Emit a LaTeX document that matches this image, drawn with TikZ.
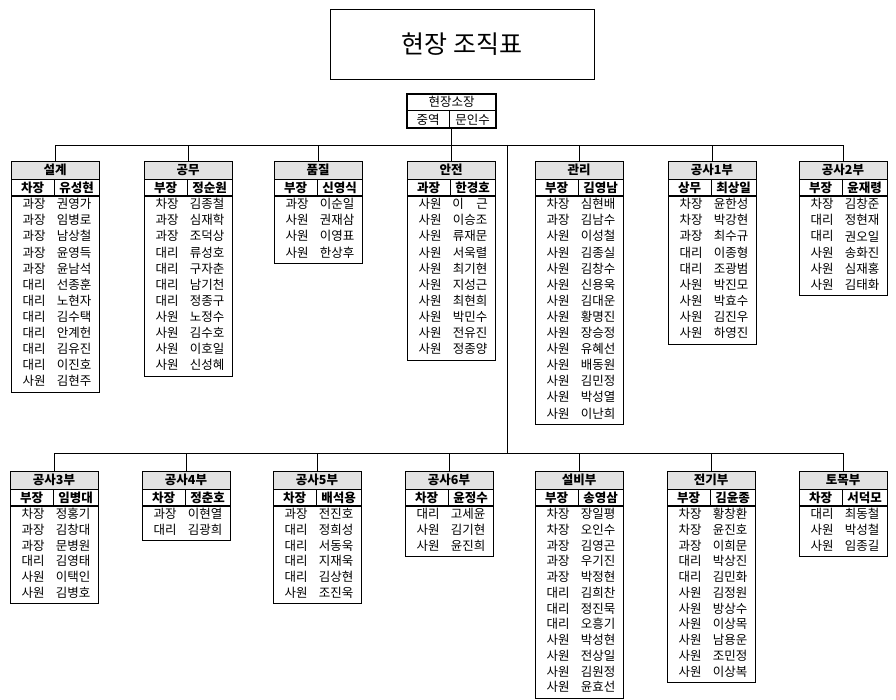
\documentclass[tikz,border=0pt]{standalone}
\usepackage{fontspec}
\setmainfont{Noto Sans CJK KR}
\tikzset{
  hdr/.style={draw, line width=0.7pt, fill=gray!22, minimum width=88pt, minimum height=18pt, inner sep=0pt, font=\bfseries\fontsize{12.5}{14}\selectfont},
  cell/.style={inner sep=0pt, font=\fontsize{12.5}{14}\selectfont},
  rankcell/.style={inner sep=0pt, font=\bfseries\fontsize{12.5}{14}\selectfont},
  boxline/.style={line width=0.7pt},
  thickline/.style={line width=1.3pt},
  conn/.style={line width=0.7pt}
}
\def\rh{16.1}
\newcommand\dept[8]{%
  \pgfmathsetmacro\dX{#2}%
  \pgfmathsetmacro\xL{#2-43}%
  \pgfmathsetmacro\xR{#2+45}%
  \pgfmathsetmacro\xC{#2+1}%
  \pgfmathsetmacro\yH{#3+9}%
  \pgfmathsetmacro\yB{#3+18}%
  \pgfmathsetmacro\yC{#3+35}%
  \pgfmathsetmacro\yR{#3+26.5}%
  \pgfmathsetmacro\yE{#3+35+#7*\rh+3}%
  \draw[boxline] (\xL,\yB) rectangle (\xR,\yE);
  \node[hdr] (#1) at (\xC,\yH) {#4};
  \draw[boxline] (\dX,\yB) -- (\dX,\yC);
  \draw[thickline] (\xL,\yC) -- (\xR,\yC);
  \node[rankcell] (#1-r) at ({(\xL+\dX)/2},\yR) {#5};
  \node[rankcell] (#1-n) at ({(\dX+\xR)/2},\yR) {#6};
  \foreach \a/\b [count=\k] in {#8}{
    \node[cell] (#1-a\k) at ({\dX-20},{\yC+(\k-0.5)*\rh}) {\a};
    \node[cell] (#1-b\k) at ({\dX+20},{\yC+(\k-0.5)*\rh}) {\b};
  }%
}
\begin{document}
\begin{tikzpicture}[x=1pt,y=-1pt]
\useasboundingbox (0,0) rectangle (896,700);
% title
\node[draw, line width=0.7pt, minimum width=264pt, minimum height=70pt, font=\fontsize{25}{30}\selectfont] (title) at (462,44) {현장 조직표};
% boss
\node[draw, line width=1.2pt, minimum width=89pt, minimum height=34pt, inner sep=0pt] (bossbox) at (451.5,111) {};
\node[cell] (boss) at (451.5,102) {현장소장};
\draw[boxline] (407,110) -- (496,110);
\draw[boxline] (449,110) -- (449,128);
\node[cell] (bossL) at (428,119.5) {중역};
\node[cell] (bossR) at (472.5,119.5) {문인수};
% top row
\dept{sg}{54}{161}{설계}{차장}{유성현}{12}{과장/권영가,과장/임병로,과장/남상철,과장/윤영득,과장/윤남석,대리/선종훈,대리/노현자,대리/김수택,대리/안계헌,대리/김유진,대리/이진호,사원/김현주}
\dept{gm}{187}{161}{공무}{부장}{정순원}{11}{차장/김종철,과장/심재학,과장/조덕상,대리/류성호,대리/구자춘,대리/남기천,대리/정종구,사원/노정수,사원/김수호,사원/이호일,사원/신성혜}
\dept{pj}{317}{161}{품질}{부장}{신영식}{4}{과장/이순일,사원/권재삼,사원/이영표,사원/한상후}
\dept{aj}{450}{161}{안전}{과장}{한경호}{10}{사원/이\hspace{1em}근,사원/이승조,사원/류재문,사원/서욱렬,사원/최기현,사원/지성근,사원/최현희,사원/박민수,사원/전유진,사원/정종양}
\dept{gl}{578}{161}{관리}{부장}{김영남}{14}{차장/심현배,과장/김남수,사원/이성철,사원/김종실,사원/김창수,사원/신용욱,사원/김대운,사원/황명진,사원/장승정,사원/유혜선,사원/배동원,사원/김민정,사원/박성열,사원/이난희}
\dept{gs1}{711}{161}{공사1부}{상무}{최상일}{9}{차장/윤한성,차장/박강현,과장/최수규,대리/이종형,대리/조광범,사원/박진모,사원/박효수,사원/김진우,사원/하영진}
\dept{gs2}{842}{161}{공사2부}{부장}{윤재령}{6}{차장/김창준,대리/정현재,대리/권오일,사원/송화진,사원/심재홍,사원/김태화}
% bottom row
\def\rh{15.75}
\dept{gs3}{53}{471}{공사3부}{부장}{임병대}{6}{차장/정홍기,과장/김창대,과장/문병원,대리/김영태,사원/이택인,사원/김병호}
\dept{gs4}{185}{471}{공사4부}{차장}{정춘호}{2}{과장/이현열,대리/김광희}
\dept{gs5}{316}{471}{공사5부}{차장}{배석용}{6}{과장/전진호,대리/정희성,대리/서동욱,대리/지재욱,대리/김상현,사원/조진욱}
\dept{gs6}{448}{471}{공사6부}{차장}{윤정수}{3}{대리/고세윤,사원/김기현,사원/윤진희}
\dept{sb}{578}{471}{설비부}{부장}{송영삼}{12}{차장/장일평,차장/오인수,과장/김영곤,과장/우기진,과장/박정현,대리/김희찬,대리/정진묵,대리/오흥기,사원/박성현,사원/전상일,사원/김원정,사원/윤효선}
\dept{jg}{710}{471}{전기부}{부장}{김윤종}{11}{차장/황창환,차장/윤진호,과장/이희문,대리/박상진,대리/김민화,사원/김정원,사원/방상수,사원/이상목,사원/남용운,사원/조민정,사원/이상복}
\dept{tm}{842}{471}{토목부}{차장}{서덕모}{3}{대리/최동철,사원/박성철,사원/임종길}
% connectors
\coordinate (busT) at (0,145);
\coordinate (busB) at (0,453);
\coordinate (trunk) at (507,145);
\draw[conn] (bossbox.south) -- (bossbox.south |- busT);
\draw[conn] (sg.north |- busT) -- (gs2.north |- busT);
\foreach \d in {sg,gm,pj,aj,gl,gs1,gs2}{\draw[conn] (\d.north) -- (\d.north |- busT);}
\draw[conn] (trunk) -- (trunk |- busB);
\draw[conn] (gs3.north |- busB) -- (tm.north |- busB);
\foreach \d in {gs3,gs4,gs5,gs6,sb,jg,tm}{\draw[conn] (\d.north) -- (\d.north |- busB);}
\end{tikzpicture}
\end{document}
